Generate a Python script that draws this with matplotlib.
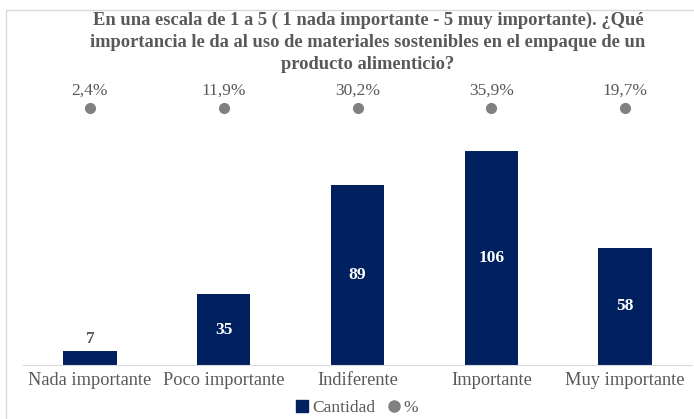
import matplotlib
matplotlib.use("Agg")
import matplotlib.pyplot as plt
from matplotlib.patches import Rectangle
from matplotlib.lines import Line2D

# datos de la encuesta
categorias = ["Nada importante", "Poco importante", "Indiferente", "Importante", "Muy importante"]
cantidad = [7, 35, 89, 106, 58]
porcentaje = ["2,4%", "11,9%", "30,2%", "35,9%", "19,7%"]

azul = "#002060"
gris = "#808080"
texto = "#595959"

plt.rcParams["font.family"] = ["Liberation Serif", "DejaVu Serif"]

fig = plt.figure(figsize=(6.94, 4.19), dpi=100)
W, H = 694.0, 419.0

# marco del grafico
fig.patches.append(Rectangle((6 / W, -0.1), 1.2, (419 - 10) / H + 0.1, transform=fig.transFigure,
                             fill=False, edgecolor="#d9d9d9", linewidth=1))

ax = fig.add_axes([23 / W, (419 - 365) / H, 669 / W, 290 / H])
x = list(range(len(categorias)))
ax.bar(x, cantidad, width=0.4, color=azul, zorder=2)
ax.set_xlim(-0.5, 4.5)
ax.set_ylim(0, 290 / 2.02)

for xi, v in zip(x, cantidad):
    if v < 15:
        ax.annotate(str(v), (xi, v), xytext=(0, 3), textcoords="offset points",
                    ha="center", va="bottom", fontsize=12.5, fontweight="bold", color=texto)
    else:
        ax.text(xi, v / 2, str(v), ha="center", va="center", fontsize=12.5,
                fontweight="bold", color="white")

ax.set_xticks(x)
ax.set_xticklabels(categorias, fontsize=13.2, color=texto)
ax.tick_params(axis="x", length=0, pad=5)
ax.set_yticks([])
for s in ["top", "left", "right"]:
    ax.spines[s].set_visible(False)
ax.spines["bottom"].set_color("#d9d9d9")

# serie de porcentaje en eje secundario
ax2 = ax.twinx()
ax2.set_ylim(0, 1)
nivel = [0.886] * len(categorias)
ax2.plot(x, nivel, "o", color=gris, markersize=7)
for xi, y, p in zip(x, nivel, porcentaje):
    ax2.annotate(p, (xi, y), xytext=(0, 7), textcoords="offset points",
                 ha="center", va="bottom", fontsize=12.5, color=texto)
ax2.axis("off")

fig.text(368 / W, 1 - 12 / H,
         "En una escala de 1 a 5 ( 1 nada importante - 5 muy importante). ¿Qué\n"
         "importancia le da al uso de materiales sostenibles en el empaque de un\n"
         "producto alimenticio?",
         ha="center", va="top", fontsize=13.3, fontweight="bold", color=texto,
         linespacing=1.36)

handles = [Line2D([], [], marker="s", linestyle="", color=azul, markersize=8),
           Line2D([], [], marker="o", linestyle="", color=gris, markersize=8)]
fig.legend(handles, ["Cantidad", "%"], loc="center", bbox_to_anchor=(356 / W, 1 - 408 / H),
           ncol=2, frameon=False, fontsize=12.5, handletextpad=0.05, columnspacing=0.6,
           handlelength=1.0, labelcolor=texto)

fig.savefig("out.png", dpi=100)
